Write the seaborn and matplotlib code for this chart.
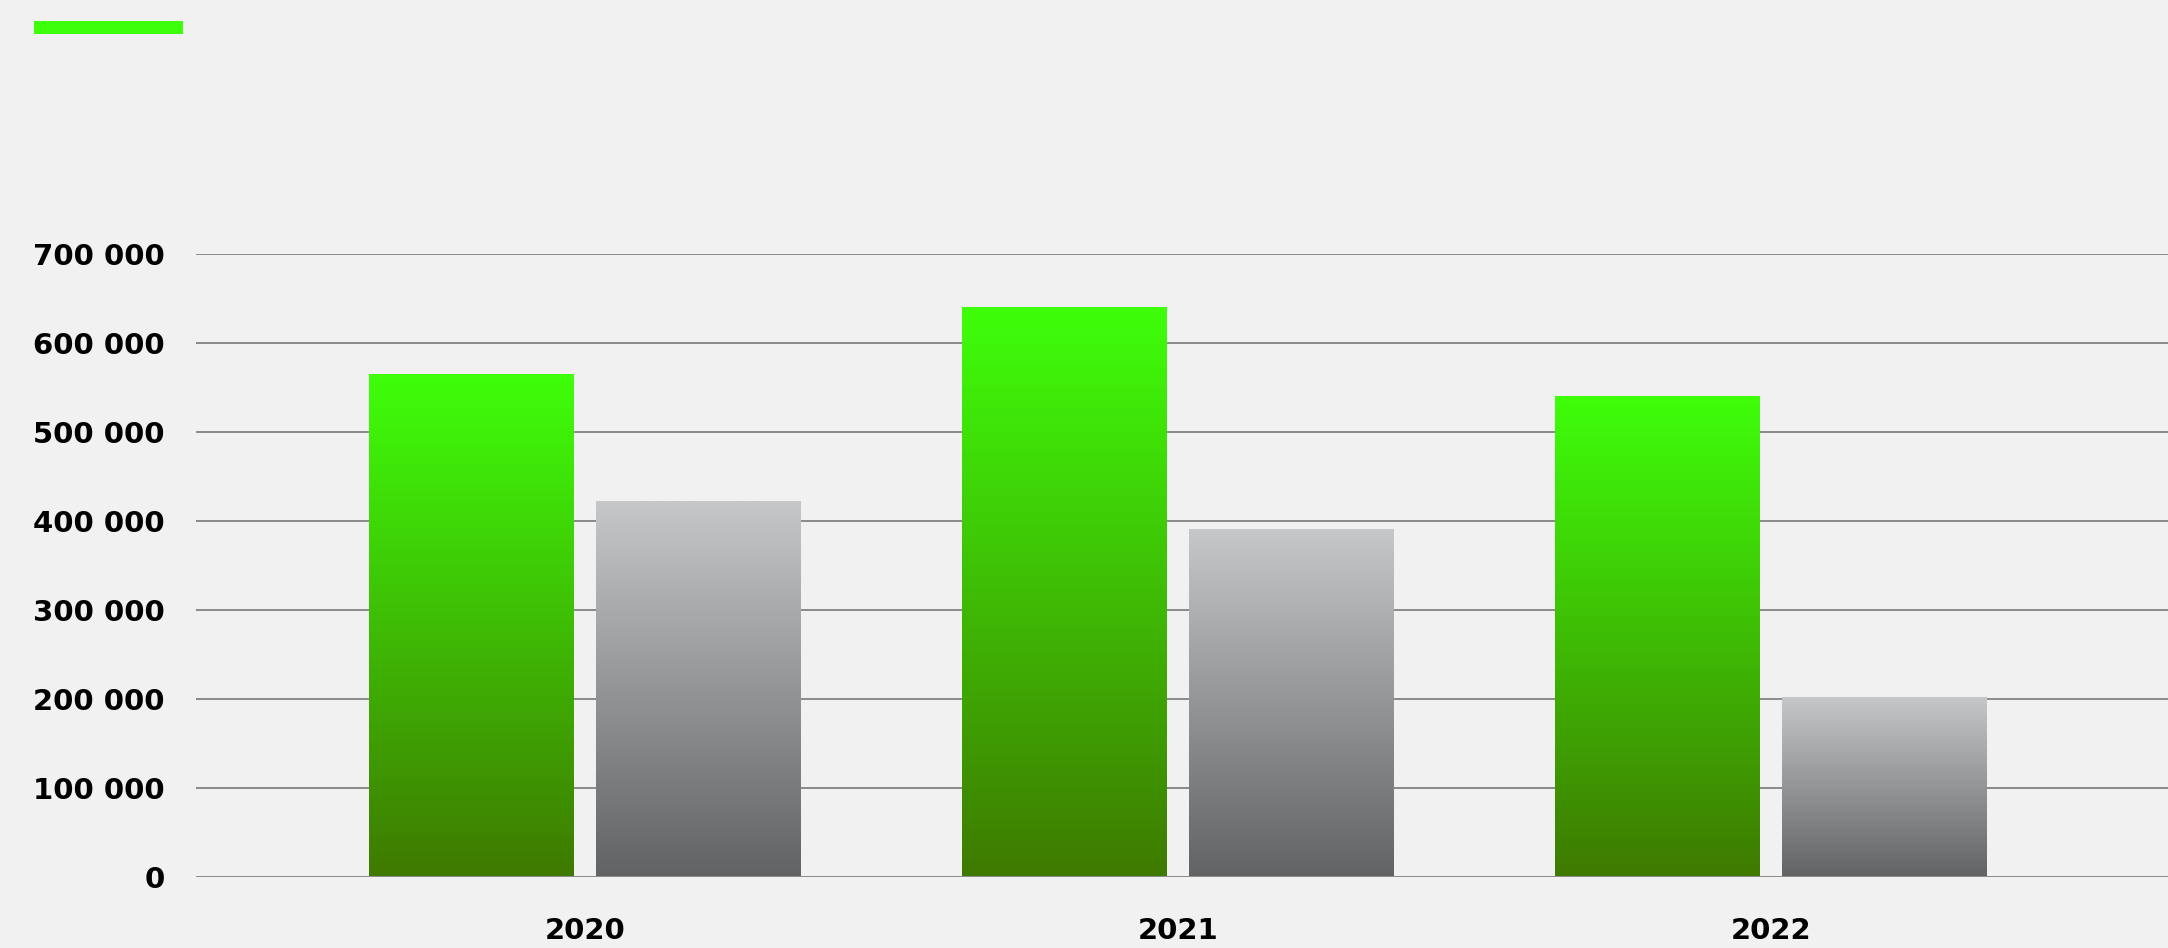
import numpy as np
import pandas as pd
import matplotlib
matplotlib.use("Agg")
import matplotlib.pyplot as plt
from matplotlib.patches import Rectangle
from matplotlib.colors import LinearSegmentedColormap, to_rgb
from matplotlib.ticker import MultipleLocator, FuncFormatter
import seaborn as sns

# ---- data ----
years = ["2020", "2021", "2022"]
series_names = ["green", "gray"]
green_values = [564000, 640000, 539000]
gray_values = [421000, 390000, 201000]
y_ticks_step = 100000
y_max = 700000

df = pd.DataFrame({
    "year": years * 2,
    "series": [series_names[0]] * 3 + [series_names[1]] * 3,
    "value": green_values + gray_values,
})

# ---- styles ----
BG = "#f1f1f1"
green_top, green_bot = "#3eff0a", "#3f7a00"
gray_top, gray_bot = "#c6c7c9", "#626365"

sns.set_theme(style="white")
plt.rcParams["font.family"] = ["DejaVu Sans"]

W, H = 2168, 948
fig = plt.figure(figsize=(W / 100, H / 100), dpi=100, facecolor=BG)
ax = fig.add_axes([196 / W, 1 - 876.5 / H, 1 - 196 / W, (876.5 - 254.4) / H])
ax.set_facecolor(BG)

sns.barplot(data=df, x="year", y="value", hue="series",
            palette={series_names[0]: green_top, series_names[1]: gray_top},
            width=0.766, gap=0.1, legend=False, ax=ax, saturation=1,
            errorbar=None)

# gradients on each bar
cmaps = {
    to_rgb(green_top): LinearSegmentedColormap.from_list("g", [green_bot, green_top]),
    to_rgb(gray_top): LinearSegmentedColormap.from_list("k", [gray_bot, gray_top]),
}
grad = np.linspace(0, 1, 256).reshape(-1, 1)
for bar in list(ax.patches):
    fc = bar.get_facecolor()[:3]
    cmap = None
    for k, v in cmaps.items():
        if all(abs(a - b) < 0.01 for a, b in zip(k, fc)):
            cmap = v
    if cmap is None:
        continue
    x, y0 = bar.get_x(), bar.get_y()
    w, h = bar.get_width(), bar.get_height()
    ax.imshow(grad, cmap=cmap, aspect="auto", origin="lower",
              extent=[x, x + w, y0, y0 + h], zorder=3, interpolation="bilinear")
    bar.set_alpha(0)

ax.set_xlim(-0.656, 2.67)
ax.set_ylim(0, y_max)

ax.yaxis.set_major_locator(MultipleLocator(y_ticks_step))
ax.yaxis.set_major_formatter(FuncFormatter(lambda v, p: f"{int(v):,}".replace(",", " ")))
ax.grid(axis="y", color="#8a8a8a", linewidth=1.4, zorder=0)
ax.grid(axis="x", visible=False)
ax.set_axisbelow(True)
for s in ax.spines.values():
    s.set_visible(False)
ax.tick_params(axis="both", length=0)
ax.tick_params(axis="y", pad=22.5, labelsize=21)
ax.tick_params(axis="x", pad=29, labelsize=21)
for lab in ax.get_yticklabels() + ax.get_xticklabels():
    lab.set_fontweight("bold")
    lab.set_color("#000000")
ax.set_xlabel("")
ax.set_ylabel("")

# legend key (no text)
fig.patches.append(Rectangle((34 / W, 1 - 34 / H), 149 / W, 13 / H,
                             transform=fig.transFigure, facecolor=green_top,
                             edgecolor="none"))

fig.savefig("out.png", dpi=100, facecolor=BG)
